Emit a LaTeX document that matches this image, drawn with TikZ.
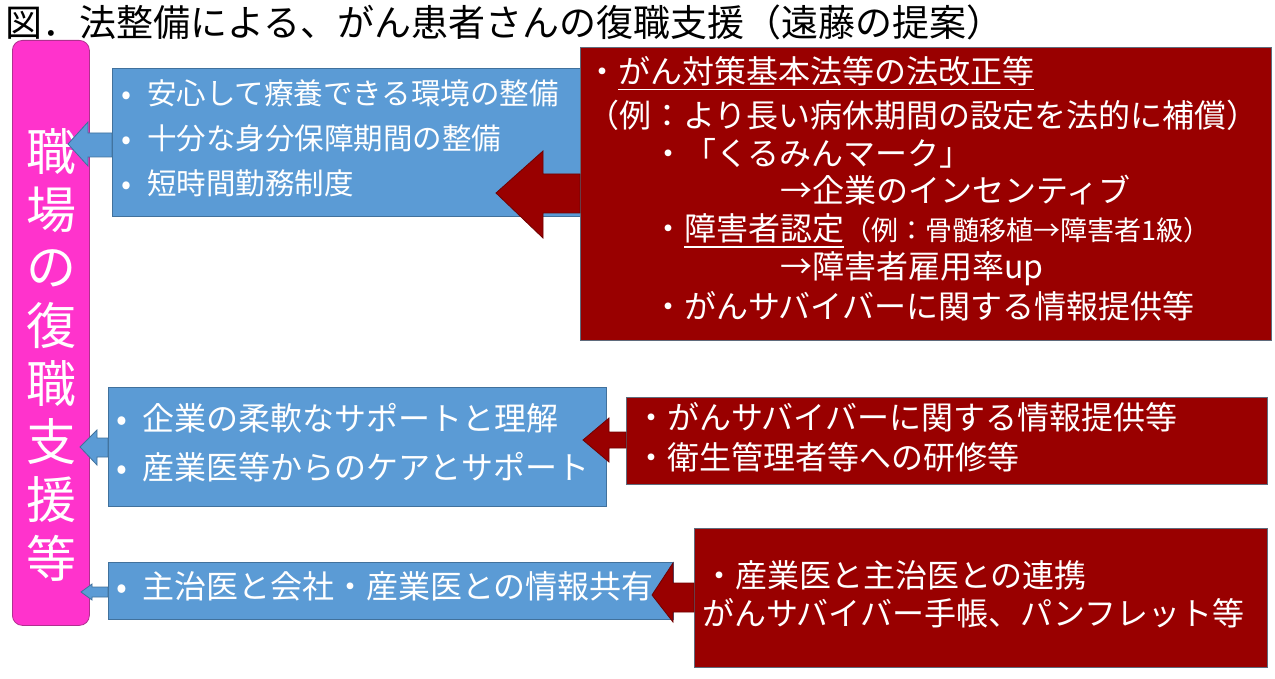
\documentclass[tikz,border=0pt]{standalone}
\usepackage{fontspec}
\setmainfont{Noto Sans CJK JP}
\definecolor{pinkfill}{HTML}{FF33CC}
\definecolor{pinkline}{HTML}{B0308F}
\definecolor{boxblue}{HTML}{5B9BD5}
\definecolor{blueline}{HTML}{41719C}
\definecolor{boxred}{HTML}{990000}
\definecolor{redline}{HTML}{5F6B7C}
\definecolor{redarrowline}{HTML}{700000}
\newcommand{\redul}[1]{\setbox0\hbox{#1}\rlap{\rule[-7pt]{\wd0}{1.5pt}}\box0}
\begin{document}
\begin{tikzpicture}[x=1pt,y=-1pt,
    pinkbox/.style={fill=pinkfill, draw=pinkline, line width=0.8pt, rounded corners=10pt, inner sep=0pt, anchor=north west},
    bluebox/.style={fill=boxblue, draw=blueline, line width=0.8pt, inner sep=0pt, anchor=north west},
    redbox/.style={fill=boxred, draw=redline, line width=0.8pt, inner sep=0pt, anchor=north west},
    txt/.style={text=white, inner sep=0pt, anchor=west, font=\fontsize{32}{38}\selectfont},
    pinktxt/.style={text=white, inner sep=0pt, font=\fontsize{50}{58}\selectfont},
    bluearrow/.style={fill=boxblue, draw=blueline, line width=0.8pt},
    redarrow/.style={fill=boxred, draw=redarrowline, line width=0.8pt}]
    \useasboundingbox (0,0) rectangle (1275,679);

    % Title
    \node[inner sep=0pt, anchor=west, font=\fontsize{37}{44}\selectfont] (title) at (5,22)
        {図．法整備による、がん患者さんの復職支援（遠藤の提案）};

    % Left column
    \node[pinkbox, minimum width=77pt, minimum height=585pt] (pink) at (12,40) {};
    \foreach \c [count=\i from 0] in {職,場,の,復,職,支,援,等} {
        \node[pinktxt] (p\i) at (51,152+58*\i) {\c};
    }

    % Blue boxes
    \node[bluebox, minimum width=468pt, minimum height=148pt] (blue1) at (112,68) {};
    \node[bluebox, minimum width=498pt, minimum height=119pt] (blue2) at (108,387) {};
    \node[bluebox, minimum width=565pt, minimum height=57pt] (blue3) at (108,562) {};

    \node[txt, font=\fontsize{29.5}{36}\selectfont] (b1a) at (121,93) {\makebox[26pt][l]{•}安心して療養できる環境の整備};
    \node[txt, font=\fontsize{29.5}{36}\selectfont] (b1b) at (121,138) {\makebox[26pt][l]{•}十分な身分保障期間の整備};
    \node[txt, font=\fontsize{29.5}{36}\selectfont] (b1c) at (121,183) {\makebox[26pt][l]{•}短時間勤務制度};
    \node[txt] (b2a) at (116,418) {\makebox[26pt][l]{•}企業の柔軟なサポートと理解};
    \node[txt] (b2b) at (116,467) {\makebox[26pt][l]{•}産業医等からのケアとサポート};
    \node[txt] (b3a) at (116,586) {\makebox[26pt][l]{•}主治医と会社・産業医との情報共有};

    % Red boxes
    \node[redbox, minimum width=691pt, minimum height=293pt] (red1) at (580,47) {};
    \node[redbox, minimum width=641pt, minimum height=87pt] (red2) at (626,397) {};
    \node[redbox, minimum width=573pt, minimum height=139pt] (red3) at (694,528) {};

    \node[txt] (r1a) at (586,73) {・\redul{がん対策基本法等の法改正等}};
    \node[txt] (r1b) at (587,115) {（例：より長い病休期間の設定を法的に補償）};
    \node[txt] (r1c) at (652,153) {・「くるみんマーク」};
    \node[txt] (r1d) at (780,190) {→企業のインセンティブ};
    \node[txt] (r1e) at (652,231) {・\redul{障害者認定}{\fontsize{27}{32}\selectfont（例：骨髄移植→障害者1級）}};
    \node[txt] (r1f) at (780,269) {→障害者雇用率up};
    \node[txt] (r1g) at (652,306) {・がんサバイバーに関する情報提供等};
    \node[txt] (r2a) at (635,417) {・がんサバイバーに関する情報提供等};
    \node[txt] (r2b) at (635,457) {・衛生管理者等への研修等};
    \node[txt] (r3a) at (703,575) {・産業医と主治医との連携};
    \node[txt] (r3b) at (702,613) {がんサバイバー手帳、パンフレット等};

    % Arrow tips
    \coordinate (tipb1) at (68,144);
    \coordinate (tipb2) at (80,447);
    \coordinate (tipb3) at (81,592);
    \coordinate (tipr1) at (496,193);
    \coordinate (tipr2) at (583,440);
    \coordinate (tipr3) at (652,595);

    % Blue arrows
    \draw[bluearrow] (blue1.west |- 0,133) -- (88,133) -- (88,122) -- (tipb1)
        -- (88,166) -- (88,157) -- (blue1.west |- 0,157) -- cycle;
    \draw[bluearrow] (blue2.west |- 0,438) -- (97,438) -- (97,430) -- (tipb2)
        -- (97,465) -- (97,457) -- (blue2.west |- 0,457) -- cycle;
    \draw[bluearrow] (blue3.west |- 0,587) -- (92,587) -- (92,584) -- (tipb3)
        -- (92,600) -- (92,597) -- (blue3.west |- 0,597) -- cycle;

    % Red arrows
    \draw[redarrow] (red1.west |- 0,174) -- (543,174) -- (543,151) -- (tipr1)
        -- (543,238) -- (543,213) -- (red1.west |- 0,213) -- cycle;
    \draw[redarrow] (red2.west |- 0,432) -- (609,432) -- (609,418) -- (tipr2)
        -- (609,462) -- (609,448) -- (red2.west |- 0,448) -- cycle;
    \draw[redarrow] (red3.west |- 0,583) -- (673,583) -- (673,563) -- (tipr3)
        -- (673,622) -- (673,612) -- (red3.west |- 0,612) -- cycle;
\end{tikzpicture}
\end{document}
